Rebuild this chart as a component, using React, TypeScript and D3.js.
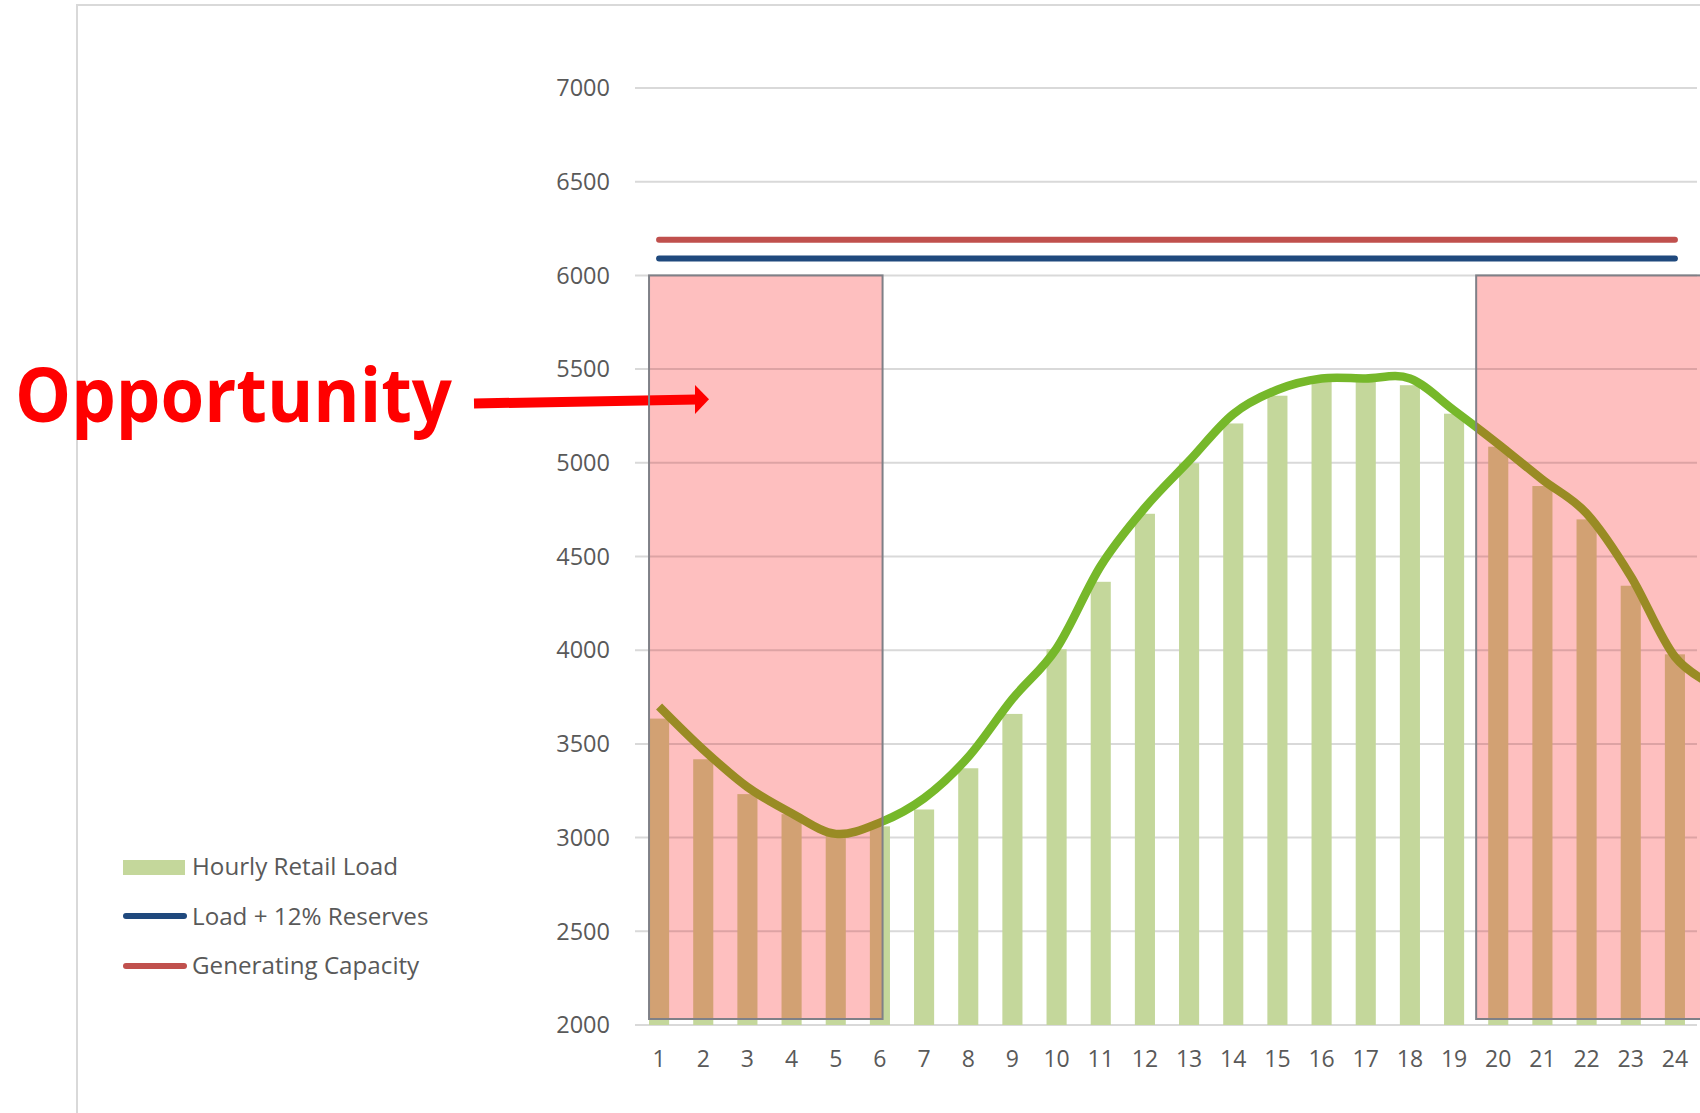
import React from "react";
import * as d3 from "d3";

const hours = [1, 2, 3, 4, 5, 6, 7, 8, 9, 10, 11, 12, 13, 14, 15, 16, 17, 18, 19, 20, 21, 22, 23, 24];
const retailLoad = [3635, 3418, 3232, 3125, 3020, 3060, 3150, 3370, 3660, 4005, 4365, 4728, 4998, 5210, 5358, 5432, 5443, 5414, 5262, 5086, 4876, 4698, 4344, 3978];
const curveHours = [1, 2, 3, 4, 5, 6, 7, 8, 9, 10, 11, 12, 13, 14, 15, 16, 17, 18, 19, 20, 21, 22, 23, 24, 25];
const curveLoad = [3700, 3470, 3270, 3130, 3020, 3080, 3210, 3430, 3740, 4010, 4450, 4760, 5010, 5260, 5390, 5450, 5450, 5450, 5280, 5100, 4910, 4730, 4395, 3965, 3800];
const reservesLevel = 6090;
const capacityLevel = 6190;
const yTicks = [2000, 2500, 3000, 3500, 4000, 4500, 5000, 5500, 6000, 6500, 7000];
const legendLabels = ["Hourly Retail Load", "Load + 12% Reserves", "Generating Capacity"];
const annotationText = "Opportunity";

const W = 1700;
const H = 1113;
const FONT = "'Open Sans', 'Noto Sans', sans-serif";

export default function App() {
  const x = d3.scalePoint<number>().domain(hours).range([637, 1697]).padding(0.5);
  const step = x.step();
  const xc = (h: number) => (h <= 24 ? (x(h) as number) : (x(24) as number) + (h - 24) * step);
  const barW = step * 0.455;
  const y = d3.scaleLinear().domain([2000, 7000]).range([1025, 88]);

  const line = d3
    .line<number>()
    .x((_, i) => xc(curveHours[i]))
    .y((v) => y(v))
    .curve(d3.curveCardinal.tension(0));
  const linePath = line(curveLoad) || "";

  const winL = { x0: xc(1) - barW / 2, x1: xc(6) + step * 0.06, y0: y(6000), y1: y(2032) };
  const winR = { x0: xc(20) - step / 2, x1: W + 30, y0: y(6000), y1: y(2032) };
  const wins = [winL, winR];

  const gridX0 = 635;
  const gridX1 = 1697;

  const renderGrid = (color: string) =>
    yTicks.map((t) => (
      <line key={t} x1={gridX0} x2={gridX1} y1={y(t)} y2={y(t)} stroke={color} strokeWidth={2} />
    ));
  const renderBars = (color: string) =>
    hours.map((h, i) => (
      <rect key={h} x={xc(h) - barW / 2} width={barW} y={y(retailLoad[i])} height={y(2000) - y(retailLoad[i])} fill={color} />
    ));

  return (
    <div style={{ position: "absolute", left: 0, top: 0, width: W, height: H, overflow: "hidden", background: "#fff" }}>
      <svg width={W} height={H} style={{ display: "block" }}>
        <defs>
          {wins.map((w, i) => (
            <clipPath id={"win" + i} key={i}>
              <rect x={w.x0} y={w.y0} width={w.x1 - w.x0} height={w.y1 - w.y0} />
            </clipPath>
          ))}
        </defs>
        <rect x={77} y={5} width={W} height={H + 20} fill="none" stroke="#D9D9D9" strokeWidth={2} />

        {renderGrid("#D9D9D9")}
        {renderBars("#C4D79B")}

        <line x1={xc(1)} x2={xc(24)} y1={y(capacityLevel)} y2={y(capacityLevel)} stroke="#C0504D" strokeWidth={6} strokeLinecap="round" />
        <line x1={xc(1)} x2={xc(24)} y1={y(reservesLevel)} y2={y(reservesLevel)} stroke="#1F497D" strokeWidth={6} strokeLinecap="round" />

        <path d={linePath} fill="none" stroke="#76B82A" strokeWidth={8.5} strokeLinejoin="round" />

        {wins.map((w, i) => (
          <g key={i} clipPath={`url(#win${i})`}>
            <rect x={w.x0} y={w.y0} width={w.x1 - w.x0} height={w.y1 - w.y0} fill="#FEBFBF" />
            {renderGrid("#DDA3A4")}
            {renderBars("#D2A173")}
            <path d={linePath} fill="none" stroke="#998B24" strokeWidth={8.5} strokeLinejoin="round" />
          </g>
        ))}

        <g>
          <line x1={474} y1={403.5} x2={697} y2={399.5} stroke="#FF0000" strokeWidth={10} />
          <polygon points="695,385 709,399.3 695,414" fill="#FF0000" />
        </g>

        {wins.map((w, i) => (
          <rect key={i} x={w.x0} y={w.y0} width={w.x1 - w.x0} height={w.y1 - w.y0} fill="none" stroke="#7F8087" strokeWidth={2} />
        ))}

        {yTicks.map((t) => (
          <text key={t} x={610} y={y(t)} dy="0.35em" textAnchor="end" fontFamily={FONT} fontSize={23.5} fill="#595959">
            {t}
          </text>
        ))}
        {hours.map((h) => (
          <text key={h} x={xc(h)} y={1059} dy="0.35em" textAnchor="middle" fontFamily={FONT} fontSize={23} fill="#595959">
            {h}
          </text>
        ))}

        <rect x={123} y={860} width={62} height={15} fill="#C4D79B" />
        <line x1={126} x2={184} y1={916} y2={916} stroke="#1F497D" strokeWidth={6} strokeLinecap="round" />
        <line x1={126} x2={184} y1={966} y2={966} stroke="#C0504D" strokeWidth={6} strokeLinecap="round" />
        {legendLabels.map((l, i) => (
          <text key={l} x={192} y={867 + i * 49.5} dy="0.35em" fontFamily={FONT} fontSize={24.2} fill="#595959">
            {l}
          </text>
        ))}

        <text x={15} y={422} fontFamily={FONT} fontWeight="bold" fontSize={76} fill="#FF0000" textLength={437} lengthAdjust="spacingAndGlyphs">
          {annotationText}
        </text>
      </svg>
    </div>
  );
}
